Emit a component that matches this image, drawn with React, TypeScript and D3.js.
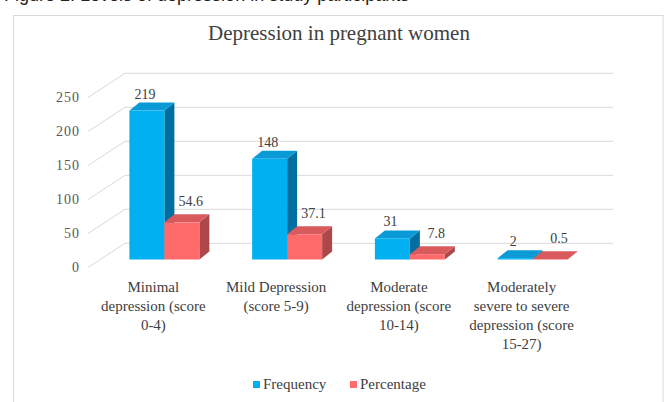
import React from "react";
import * as d3 from "d3";

const categories = [
  "Minimal depression (score 0-4)",
  "Mild Depression (score 5-9)",
  "Moderate depression (score 10-14)",
  "Moderately severe to severe depression (score 15-27)",
];
const categoryLines = [
  ["Minimal", "depression (score", "0-4)"],
  ["Mild Depression", "(score 5-9)"],
  ["Moderate", "depression (score", "10-14)"],
  ["Moderately", "severe to severe", "depression (score", "15-27)"],
];
const seriesNames = ["Frequency", "Percentage"];
const frequency = [219, 148, 31, 2];
const percentage = [54.6, 37.1, 7.8, 0.5];
const yTicks = [0, 50, 100, 150, 200, 250];
const title = "Depression in pregnant women";
const caption = "Figure 2: Levels of depression in study participants";

const W = 667;
const H = 402;
const SERIF = "'Liberation Serif', 'DejaVu Serif', serif";

const faceColors = [
  { front: "#00B0F0", top: "#0A9BD6", side: "#006E9E" },
  { front: "#FF6B6B", top: "#D85A5C", side: "#AE4749" },
];

export default function App() {
  const hScale = d3.scaleLinear().domain([0, 250]).range([0, 170]);
  const x = d3
    .scaleBand<string>()
    .domain(categories)
    .range([103, 594])
    .paddingInner(0.43)
    .paddingOuter(0.215);
  const xs = d3
    .scaleBand<string>()
    .domain(seriesNames)
    .range([0, x.bandwidth()]);

  const barBase = 259.5;
  const frontBase = 267.5;
  const backBase = 243.3;
  const dx = 10;
  const dy = -8;
  const wallLeft = 125;
  const wallRight = 613;
  const floorFrontX = 88;

  const series = [frequency, percentage];

  const bars: React.ReactNode[] = [];
  const labels: React.ReactNode[] = [];
  categories.forEach((c, ci) => {
    series.forEach((vals, si) => {
      const v = vals[ci];
      const bx = (x(c) ?? 0) + (xs(seriesNames[si]) ?? 0);
      const w = xs.bandwidth();
      const h = hScale(v);
      const yt = barBase - h;
      const col = faceColors[si];
      const top = [
        [bx, yt],
        [bx + dx, yt + dy],
        [bx + w + dx, yt + dy],
        [bx + w, yt],
      ];
      const side = [
        [bx + w, yt],
        [bx + w + dx, yt + dy],
        [bx + w + dx, barBase + dy],
        [bx + w, barBase],
      ];
      const pts = (p: number[][]) => p.map((q) => q.join(",")).join(" ");
      bars.push(
        <g key={`b-${ci}-${si}`}>
          <polygon points={pts(side)} fill={col.side} />
          <polygon points={pts(top)} fill={col.top} />
          <rect x={bx} y={yt} width={w} height={h} fill={col.front} />
        </g>
      );
      labels.push(
        <text
          key={`l-${ci}-${si}`}
          x={bx + w / 2 + (si === 0 ? -2 : 9)}
          y={yt + dy + (si === 0 ? -4 : -8)}
          textAnchor="middle"
          fontFamily={SERIF}
          fontSize={14}
          fill="#404040"
        >
          {v}
        </text>
      );
    });
  });

  return (
    <svg
      width={W}
      height={H}
      style={{ position: "absolute", left: 0, top: 0, background: "#fff" }}
    >
      <text x={4} y={1} fontFamily="'Liberation Sans', Arial, sans-serif" fontSize={18} fill="#222">
        {caption}
      </text>
      <rect x={13.5} y={15.5} width={649.5} height={420} fill="#fff" stroke="#D9D9D9" />
      <text
        x={339}
        y={40}
        textAnchor="middle"
        fontFamily={SERIF}
        fontSize={21}
        fill="#404040"
      >
        {title}
      </text>

      {yTicks.map((t) => (
        <g key={`g-${t}`} stroke="#D9D9D9" strokeWidth={1}>
          <line x1={wallLeft} x2={wallRight} y1={backBase - hScale(t)} y2={backBase - hScale(t)} />
          <line x1={floorFrontX} x2={wallLeft} y1={frontBase - hScale(t)} y2={backBase - hScale(t)} />
        </g>
      ))}
      {yTicks.map((t) => (
        <text
          key={`t-${t}`}
          x={80}
          y={frontBase - hScale(t)}
          dy="0.35em"
          textAnchor="end"
          fontFamily={SERIF}
          fontSize={14}
          letterSpacing={1}
          fill="#595959"
        >
          {t}
        </text>
      ))}

      {bars}
      {labels}

      {categories.map((c, ci) => (
        <text
          key={`c-${ci}`}
          textAnchor="middle"
          fontFamily={SERIF}
          fontSize={15}
          fill="#404040"
        >
          {categoryLines[ci].map((line, li) => (
            <tspan key={li} x={(x(c) ?? 0) + x.bandwidth() / 2 - 11} y={292 + li * 19}>
              {line}
            </tspan>
          ))}
        </text>
      ))}

      {seriesNames.map((s, si) => {
        const lx = si === 0 ? 253 : 350;
        return (
          <g key={`lg-${si}`}>
            <rect x={lx} y={381} width={7} height={7} fill={faceColors[si].front} />
            <text x={lx + 10} y={389} fontFamily={SERIF} fontSize={15} fill="#404040">
              {s}
            </text>
          </g>
        );
      })}
    </svg>
  );
}
